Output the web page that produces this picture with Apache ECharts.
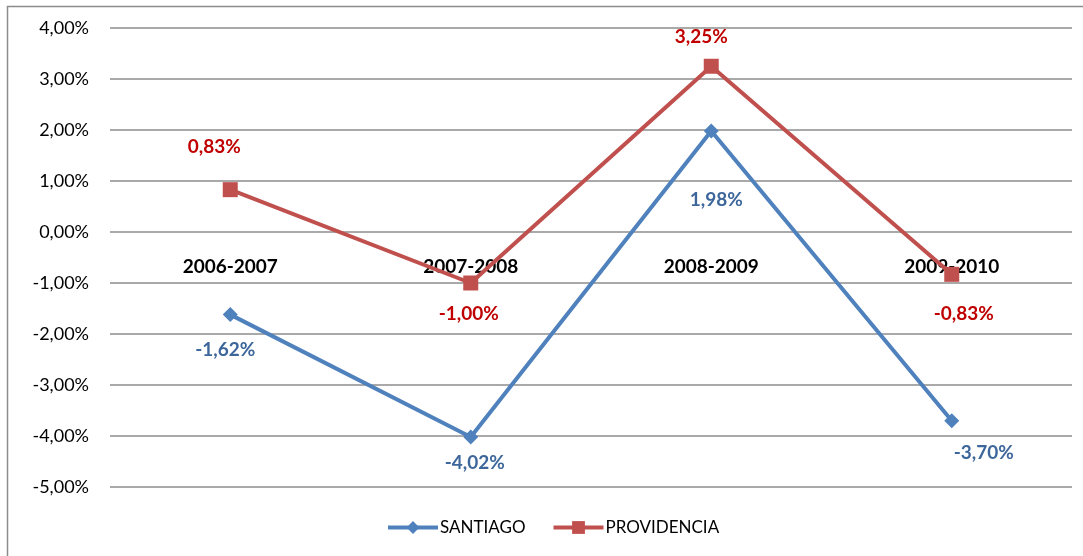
<!DOCTYPE html>
<html>
<head>
    <meta charset="utf-8">
    <title>Santiago / Providencia</title>
    <script src="https://cdn.jsdelivr.net/npm/echarts@6/dist/echarts.min.js"></script>
    <style>
        html, body { margin: 0; padding: 0; background: #fff; }
        #main { width: 1083px; height: 556px; }
    </style>
</head>
<body>
    <div id="main"></div>
    <script>
        var periods = ['2006-2007', '2007-2008', '2008-2009', '2009-2010'];
        var santiago = [-1.62, -4.02, 1.98, -3.70];
        var providencia = [0.83, -1.00, 3.25, -0.83];
        var yTicks = [-5, -4, -3, -2, -1, 0, 1, 2, 3, 4];

        // label offsets, picked by eye from the original
        var santOff = [[-5, 35], [4, 26], [5, 69], [32, 32]];
        var provOff = [[-16, -43], [-2, 31], [-10, -29], [12, 40]];

        function fmt(v) {
            return v.toFixed(2).replace('.', ',') + '%';
        }
        function withLabels(vals, offs, color) {
            return vals.map(function (v, i) {
                return {
                    value: v,
                    label: {
                        show: true,
                        position: 'inside',
                        offset: offs[i],
                        color: color,
                        fontFamily: 'Lato',
                        fontWeight: 'bold',
                        fontSize: 19,
                        formatter: function (p) { return fmt(p.value); }
                    }
                };
            });
        }

        var gridTop = 28, gridBottom = 69, H = 556;
        var plotH = H - gridTop - gridBottom;
        var yMin = yTicks[0], yMax = yTicks[yTicks.length - 1];
        // move the category axis up so it sits on the 0 line
        var zeroShift = -plotH * (0 - yMin) / (yMax - yMin);

        var chart = echarts.init(document.getElementById('main'));
        chart.setOption({
            animation: false,
            graphic: [{
                type: 'rect',
                shape: { x: 7.5, y: 6.5, width: 1100, height: 600 },
                style: { fill: 'none', stroke: '#8c8c8c', lineWidth: 1.5 },
                z: -1
            }],
            grid: { left: 110, right: 11, top: gridTop, bottom: gridBottom },
            legend: {
                bottom: 15,
                left: 381,
                itemWidth: 50,
                itemHeight: 16,
                itemGap: 26,
                lineStyle: { width: 4 },
                textStyle: { fontFamily: 'Lato', fontSize: 17, color: '#000', padding: [0, 0, 0, -3] },
                data: ['SANTIAGO', 'PROVIDENCIA']
            },
            xAxis: {
                type: 'category',
                data: periods,
                position: 'bottom',
                offset: zeroShift,
                axisLine: { show: false, onZero: false },
                axisTick: { show: false },
                axisLabel: {
                    margin: 25,
                    color: '#000',
                    fontFamily: 'Lato',
                    fontWeight: 'bold',
                    fontSize: 19
                }
            },
            yAxis: {
                type: 'value',
                min: yMin,
                max: yMax,
                interval: 1,
                axisLine: { show: false },
                axisTick: { show: false },
                splitLine: { lineStyle: { color: '#8c8c8c', width: 1.5 } },
                axisLabel: {
                    margin: 21,
                    color: '#000',
                    fontFamily: 'Lato',
                    fontSize: 18,
                    formatter: function (v) { return fmt(v); }
                }
            },
            series: [{
                name: 'SANTIAGO',
                type: 'line',
                symbol: 'diamond',
                symbolSize: 15,
                lineStyle: { width: 4, color: '#4f81bd' },
                itemStyle: { color: '#4f81bd' },
                data: withLabels(santiago, santOff, '#3d679b')
            }, {
                name: 'PROVIDENCIA',
                type: 'line',
                symbol: 'rect',
                symbolSize: 15,
                lineStyle: { width: 4, color: '#c0504d' },
                itemStyle: { color: '#c0504d' },
                data: withLabels(providencia, provOff, '#c00000')
            }]
        });
    </script>
</body>
</html>
